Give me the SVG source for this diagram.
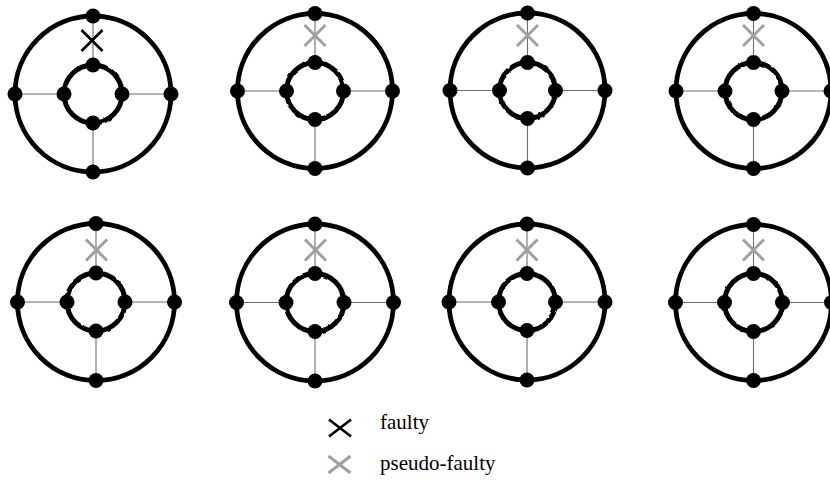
<svg xmlns="http://www.w3.org/2000/svg" xmlns:xlink="http://www.w3.org/1999/xlink" width="830" height="484" viewBox="0 0 830 484">
  <style>
    .spoke { stroke: #6e6e6e; stroke-width: 1.1; fill: none; }
    .outer { fill: none; stroke: #000; stroke-width: 4.8; }
    .inner { fill: none; stroke: #000; stroke-width: 5; filter: url(#rough); }
    .dot { fill: #000; }
    .faulty { stroke: #000; stroke-width: 2.7; fill: none; }
    .pseudo { stroke: #a0a0a0; stroke-width: 3; fill: none; }
    .label { font-family: "Liberation Serif", "Times New Roman", serif; font-size: 21px; fill: #000; }
  </style>
  <defs>
    <!-- gentle hand-drawn wobble for the small rings -->
    <filter id="rough" x="-20%" y="-20%" width="140%" height="140%">
      <feTurbulence type="fractalNoise" baseFrequency="0.14" numOctaves="1" seed="7" result="noise"/>
      <feDisplacementMap in="SourceGraphic" in2="noise" scale="2.6" xChannelSelector="R" yChannelSelector="G"/>
    </filter>
    <path id="cross" d="M-10.5,-10.5 L10.5,10.5 M10.5,-10.5 L-10.5,10.5"/>
    <path id="cross-wide" d="M-11,-8.5 L11,8.5 M11,-8.5 L-11,8.5"/>
  </defs>

  <rect width="830" height="484" fill="#fff"/>

  <!-- spokes: each inner dot to the matching outer dot -->
  <g id="connectors">
    <path class="spoke" d="M93,16 V65 M93,123 V172 M15,94 H64 M122,94 H171"/>
    <path class="spoke" d="M315,13.5 V62.5 M315,119.5 V168.5 M237.5,91 H286.5 M343.5,91 H392.5"/>
    <path class="spoke" d="M527.5,13 V62.5 M527.5,118.5 V168 M450,90.5 H499.5 M555.5,90.5 H605"/>
    <path class="spoke" d="M753.5,13.5 V62.5 M753.5,119.5 V168.5 M676,91 H725 M782,91 H831"/>
    <path class="spoke" d="M96,223.5 V273 M96,331 V380.5 M17.5,302 H67 M125,302 H174.5"/>
    <path class="spoke" d="M315,224 V273.5 M315,331.5 V381 M236.5,302.5 H286 M344,302.5 H393.5"/>
    <path class="spoke" d="M527,224 V273.5 M527,330.5 V380 M449,302 H498.5 M555.5,302 H605"/>
    <path class="spoke" d="M753.5,224.5 V273.5 M753.5,331.5 V380.5 M675.5,302.5 H724.5 M782.5,302.5 H831.5"/>
  </g>

  <!-- row 1 -->
  <g id="ring-1">
    <circle class="outer" cx="93" cy="94" r="78"/>
    <circle class="inner" cx="93" cy="94" r="29"/>
    <g class="dot">
      <circle cx="93" cy="16" r="7.5"/><circle cx="93" cy="172" r="7.5"/>
      <circle cx="15" cy="94" r="7.5"/><circle cx="171" cy="94" r="7.5"/>
      <circle cx="93" cy="65" r="7.5"/><circle cx="93" cy="123" r="7.5"/>
      <circle cx="64" cy="94" r="7.5"/><circle cx="122" cy="94" r="7.5"/>
    </g>
    <use xlink:href="#cross" class="faulty" x="92" y="40.5"/>
  </g>

  <g id="ring-2">
    <circle class="outer" cx="315" cy="91" r="77.5"/>
    <circle class="inner" cx="315" cy="91" r="28.5"/>
    <g class="dot">
      <circle cx="315" cy="13.5" r="7.5"/><circle cx="315" cy="168.5" r="7.5"/>
      <circle cx="237.5" cy="91" r="7.5"/><circle cx="392.5" cy="91" r="7.5"/>
      <circle cx="315" cy="62.5" r="7.5"/><circle cx="315" cy="119.5" r="7.5"/>
      <circle cx="286.5" cy="91" r="7.5"/><circle cx="343.5" cy="91" r="7.5"/>
    </g>
    <use xlink:href="#cross" class="pseudo" x="315" y="35.5"/>
  </g>

  <g id="ring-3">
    <circle class="outer" cx="527.5" cy="90.5" r="77.5"/>
    <circle class="inner" cx="527.5" cy="90.5" r="28"/>
    <g class="dot">
      <circle cx="527.5" cy="13" r="7.5"/><circle cx="527.5" cy="168" r="7.5"/>
      <circle cx="450" cy="90.5" r="7.5"/><circle cx="605" cy="90.5" r="7.5"/>
      <circle cx="527.5" cy="62.5" r="7.5"/><circle cx="527.5" cy="118.5" r="7.5"/>
      <circle cx="499.5" cy="90.5" r="7.5"/><circle cx="555.5" cy="90.5" r="7.5"/>
    </g>
    <use xlink:href="#cross" class="pseudo" x="527.5" y="35.5"/>
  </g>

  <g id="ring-4">
    <circle class="outer" cx="753.5" cy="91" r="77.5"/>
    <circle class="inner" cx="753.5" cy="91" r="28.5"/>
    <g class="dot">
      <circle cx="753.5" cy="13.5" r="7.5"/><circle cx="753.5" cy="168.5" r="7.5"/>
      <circle cx="676" cy="91" r="7.5"/><circle cx="831" cy="91" r="7.5"/>
      <circle cx="753.5" cy="62.5" r="7.5"/><circle cx="753.5" cy="119.5" r="7.5"/>
      <circle cx="725" cy="91" r="7.5"/><circle cx="782" cy="91" r="7.5"/>
    </g>
    <use xlink:href="#cross" class="pseudo" x="753.5" y="35.5"/>
  </g>

  <!-- row 2 -->
  <g id="ring-5">
    <circle class="outer" cx="96" cy="302" r="78.5"/>
    <circle class="inner" cx="96" cy="302" r="29"/>
    <g class="dot">
      <circle cx="96" cy="223.5" r="7.5"/><circle cx="96" cy="380.5" r="7.5"/>
      <circle cx="17.5" cy="302" r="7.5"/><circle cx="174.5" cy="302" r="7.5"/>
      <circle cx="96" cy="273" r="7.5"/><circle cx="96" cy="331" r="7.5"/>
      <circle cx="67" cy="302" r="7.5"/><circle cx="125" cy="302" r="7.5"/>
    </g>
    <use xlink:href="#cross" class="pseudo" x="96.5" y="250"/>
  </g>

  <g id="ring-6">
    <circle class="outer" cx="315" cy="302.5" r="78.5"/>
    <circle class="inner" cx="315" cy="302.5" r="29"/>
    <g class="dot">
      <circle cx="315" cy="224" r="7.5"/><circle cx="315" cy="381" r="7.5"/>
      <circle cx="236.5" cy="302.5" r="7.5"/><circle cx="393.5" cy="302.5" r="7.5"/>
      <circle cx="315" cy="273.5" r="7.5"/><circle cx="315" cy="331.5" r="7.5"/>
      <circle cx="286" cy="302.5" r="7.5"/><circle cx="344" cy="302.5" r="7.5"/>
    </g>
    <use xlink:href="#cross" class="pseudo" x="315.5" y="250"/>
  </g>

  <g id="ring-7">
    <circle class="outer" cx="527" cy="302" r="78"/>
    <circle class="inner" cx="527" cy="302" r="28.5"/>
    <g class="dot">
      <circle cx="527" cy="224" r="7.5"/><circle cx="527" cy="380" r="7.5"/>
      <circle cx="449" cy="302" r="7.5"/><circle cx="605" cy="302" r="7.5"/>
      <circle cx="527" cy="273.5" r="7.5"/><circle cx="527" cy="330.5" r="7.5"/>
      <circle cx="498.5" cy="302" r="7.5"/><circle cx="555.5" cy="302" r="7.5"/>
    </g>
    <use xlink:href="#cross" class="pseudo" x="527" y="250"/>
  </g>

  <g id="ring-8">
    <circle class="outer" cx="753.5" cy="302.5" r="78"/>
    <circle class="inner" cx="753.5" cy="302.5" r="29"/>
    <g class="dot">
      <circle cx="753.5" cy="224.5" r="7.5"/><circle cx="753.5" cy="380.5" r="7.5"/>
      <circle cx="675.5" cy="302.5" r="7.5"/><circle cx="831.5" cy="302.5" r="7.5"/>
      <circle cx="753.5" cy="273.5" r="7.5"/><circle cx="753.5" cy="331.5" r="7.5"/>
      <circle cx="724.5" cy="302.5" r="7.5"/><circle cx="782.5" cy="302.5" r="7.5"/>
    </g>
    <use xlink:href="#cross" class="pseudo" x="753.5" y="250"/>
  </g>

  <!-- legend -->
  <g id="legend">
    <use xlink:href="#cross-wide" class="faulty" x="340" y="428"/>
    <text class="label" x="380" y="429" font-family="'Liberation Serif', serif">faulty</text>
    <use xlink:href="#cross-wide" class="pseudo" x="339.5" y="464.5"/>
    <text class="label" x="380" y="470" font-family="'Liberation Serif', serif">pseudo-faulty</text>
  </g>
</svg>
